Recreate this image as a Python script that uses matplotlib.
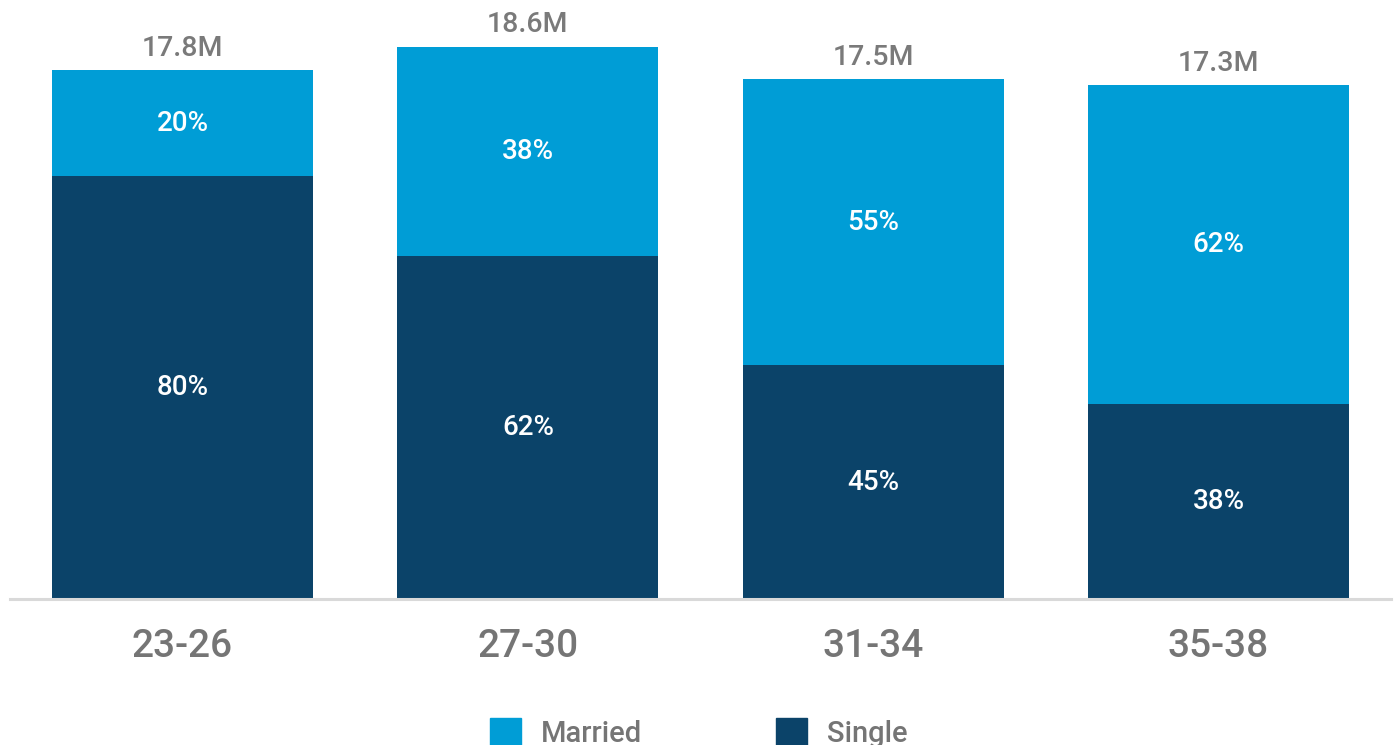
import matplotlib
matplotlib.use("Agg")
import matplotlib.pyplot as plt
from matplotlib.patches import Patch
import numpy as np

plt.rcParams['font.family'] = ['Roboto', 'DejaVu Sans']
plt.rcParams['font.weight'] = 'medium'

categories = ["23-26", "27-30", "31-34", "35-38"]
totals = [17.8, 18.6, 17.5, 17.3]          # millions
single_pct = [80, 62, 45, 38]
married_pct = [20, 38, 55, 62]

c_married = "#009DD6"
c_single = "#0B4369"
grey_text = "#757575"

W, H = 1398, 745
fig = plt.figure(figsize=(W/100, H/100), dpi=100)
base_px = 599
left_px, right_px = 9.8, 1391.2
ax = fig.add_axes([left_px/W, (H-base_px)/H, (right_px-left_px)/W, base_px/H])

x = np.arange(len(categories))
tot = np.array(totals)
single = tot * np.array(single_pct) / 100
married = tot * np.array(married_pct) / 100
bw = 0.756

ax.bar(x, single, width=bw, color=c_single, zorder=2)
ax.bar(x, married, width=bw, bottom=single, color=c_married, zorder=2)

for i in range(len(categories)):
    ax.text(x[i], single[i]/2, f"{single_pct[i]}%", ha='center', va='center',
            color='white', fontsize=20, fontweight='medium')
    ax.text(x[i], single[i] + married[i]/2, f"{married_pct[i]}%", ha='center', va='center',
            color='white', fontsize=20, fontweight='medium')
    ax.annotate(f"{totals[i]}M", (x[i], tot[i]), xytext=(0, 10.5), textcoords='offset points',
                ha='center', va='baseline', color='#7a7a7a', fontsize=20.5, fontweight='medium')

ax.set_xlim(-0.5, 3.5)
ax.set_ylim(0, base_px/29.7)
for s in ['top', 'right', 'left']:
    ax.spines[s].set_visible(False)
ax.spines['bottom'].set_color('#d9d9d9')
ax.spines['bottom'].set_linewidth(2.2)
ax.spines['bottom'].set_zorder(3)
ax.set_yticks([])
ax.set_xticks(x)
ax.set_xticklabels(categories, fontsize=28, color=grey_text, fontweight='medium')
ax.tick_params(axis='x', length=0, pad=21)

handles = [Patch(color=c_married, label='Married'), Patch(color=c_single, label='Single')]
fig.legend(handles=handles, loc='center', bbox_to_anchor=(0.5, 1 - 733/H), ncol=2,
           frameon=False, prop={'size': 21, 'weight': 'medium'}, labelcolor=grey_text,
           handlelength=1.05, handleheight=1.05, handletextpad=0.7, columnspacing=4.6)

fig.savefig("out.png", dpi=100)
